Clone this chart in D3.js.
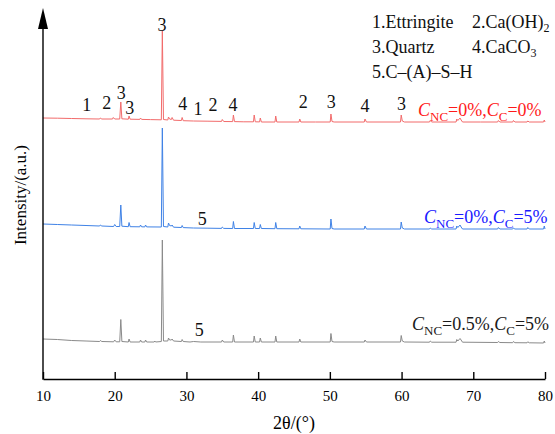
<!DOCTYPE html>
<html><head><meta charset="utf-8">
<script src="https://cdn.jsdelivr.net/npm/d3@7"></script>
<style>body{margin:0;background:#fff}svg{display:block}text{font-family:"Liberation Serif","Times New Roman",serif}</style>
</head><body><svg id="c" width="555" height="434"></svg>
<script>
// 2θ (°) vs intensity (a.u., stacked)
const xTicks = [10,20,30,40,50,60,70,80];
const seriesNames = ["NC0_C0","NC0_C5","NC05_C5"];
const redPts = [[10,261],[12,260.8],[14,260.5],[16,260.2],[17.9,260],[18,261],[18.2,260],[19.7,260],[19.8,261.5],[20,260],[20.7,260],[20.85,277],[21,260.2],[21.9,259.8],[22,263],[22.15,259.8],[23.5,259.6],[23.6,261],[23.75,259.6],[25,259.4],[26.5,259.2],[26.64,348],[26.8,259.5],[27.4,259],[27.5,262],[27.65,260],[27.9,259.5],[28,261.5],[28.2,258.8],[29.3,258.5],[29.4,261.5],[29.55,258.3],[31,258],[33,257.8],[34.9,257.6],[35,259.5],[35.2,257.5],[36.45,257.4],[36.55,264],[36.7,257.4],[38,257.2],[39.35,257.2],[39.45,264],[39.6,257.2],[40.2,257.1],[40.3,261],[40.45,257],[42.35,257],[42.45,263],[42.6,257],[45.7,257],[45.8,260],[45.95,257],[48,257],[50.05,257],[50.15,265],[50.3,257.5],[50.6,257],[54.8,257],[54.9,260],[55.1,257],[59.85,257],[59.95,264],[60.1,258],[60.4,257],[63.9,257],[64,258.5],[64.2,257],[67.6,257],[67.7,260],[67.85,258.5],[68.15,261],[68.3,259],[68.5,257],[71,257],[73.4,257],[73.5,258.5],[73.7,257],[75.5,257],[75.6,258.5],[75.8,257],[77.5,257],[77.6,258],[77.8,257],[79.8,257],[79.9,259],[80,257]];
const bluePts = [[10,155],[12,154.5],[14,154],[16,153.5],[17.9,153],[18,154],[18.2,153],[19.85,152.5],[20,154.5],[20.2,152.5],[20.7,152.5],[20.85,174],[21,152.8],[21.9,152.3],[22,156.5],[22.15,152.3],[23.5,152.2],[23.6,154],[23.75,152.2],[24.2,152.1],[24.3,154],[24.45,152.1],[26.5,152],[26.64,251],[26.8,152.5],[27.4,152],[27.5,156],[27.65,153.5],[27.9,153],[28,154],[28.2,151.8],[29.3,151.5],[29.4,153.5],[29.55,151.4],[31,151],[33,150.8],[34.9,150.6],[35,152],[35.2,150.6],[36.45,150.5],[36.55,157.5],[36.7,150.5],[39.35,150.5],[39.45,156.5],[39.6,150.5],[40.2,150.5],[40.3,154.5],[40.45,150.5],[42.35,150.3],[42.45,156.5],[42.6,150.3],[45.7,150.2],[45.8,153],[45.95,150.2],[50.05,150],[50.15,160],[50.3,150.5],[50.6,150],[54.8,150],[54.9,153],[55.1,150],[59.85,150],[59.95,157],[60.1,151],[60.4,150],[63.9,150],[64,151],[64.2,150],[67.6,150],[67.7,153],[67.85,151.5],[68.15,154],[68.3,152],[68.5,150],[73.4,150],[73.5,151.5],[73.7,150],[75.5,150],[75.6,151],[75.8,150],[77.5,150],[77.6,151.5],[77.8,150],[79.8,150],[79.9,153],[80,150]];
const grayPts = [[10,40],[12,39.5],[14,38.5],[16,38],[17.9,37.5],[18,38.5],[18.2,37.5],[19.85,37.2],[20,39],[20.2,37.2],[20.7,37.2],[20.85,59.5],[21,37.5],[21.9,37],[22,40],[22.15,37],[23.5,37],[23.6,39],[23.75,37],[24.2,37],[24.3,39],[24.45,37],[25.5,37],[25.6,38],[25.7,37],[26.5,37.5],[26.64,139],[26.8,38],[27.4,38],[27.5,41],[27.65,39],[27.9,39],[28,40],[28.2,38],[29.3,37.5],[29.4,39.5],[29.55,37.5],[30.5,37],[31,37.5],[32,37],[34.9,37],[35,39],[35.2,37],[36.45,37],[36.55,44],[36.7,37],[39.35,37],[39.45,43],[39.6,37],[40.2,37],[40.3,41],[40.45,37],[42.35,37],[42.45,43],[42.6,37],[45.7,37],[45.8,40],[45.95,37],[50.05,37],[50.15,45.5],[50.3,37.5],[50.6,37],[54.8,37],[54.9,39],[55.1,37],[59.85,37],[59.95,43.5],[60.1,38],[60.4,37],[63.9,36.8],[64,38],[64.2,36.8],[67.6,36.8],[67.7,39.5],[67.85,38],[68.15,40.5],[68.3,39],[68.5,36.8],[73.4,36.5],[73.5,37.5],[73.7,36.5],[75.5,36.3],[75.6,37.5],[75.8,36.3],[77.5,36.2],[77.6,37.2],[77.8,36.2],[79.8,36],[79.9,38],[80,36]];
// peak labels: [text, 2θ, intensity]
const peakLabels = [["1",16.1,274],["2",18.9,276],["3",20.9,286],["3",22.1,271],["3",26.6,354],["4",29.5,275],["1",31.6,270],["2",33.7,274],["4",36.5,274],["2",46.3,277],["3",50.2,277],["4",54.9,273],["3",60.0,275],["5",32.2,160],["5",31.8,49]];
const legendItems = ["1.Ettringite","2.Ca(OH)|2","3.Quartz","4.CaCO|3","5.C–(A)–S–H"];
const seriesLabels = [["0%","0%"],["0%","5%"],["0.5%","5%"]];

const FONT = "'Liberation Serif','Times New Roman',serif";
const svg = d3.select("#c");
const x = d3.scaleLinear().domain([10,80]).range([43,545]);
const y = d3.scaleLinear().domain([0,370]).range([379,9]);
const line = d3.line().x(d=>x(d[0])).y(d=>y(d[1]));

const lineColors = ["#f26b6b","#3f82e6","#8a8a8a"];
[redPts,bluePts,grayPts].forEach((pts,i)=>{
  svg.append("path").datum(pts).attr("d",line).attr("fill","none")
    .attr("stroke",lineColors[i]).attr("stroke-width",1).attr("stroke-linejoin","round");
});

// axes
const xa = svg.append("g").attr("transform","translate(0,379)")
  .call(d3.axisBottom(x).tickValues(xTicks).tickSizeInner(-7).tickSizeOuter(0).tickPadding(11).tickFormat(d3.format("d")));
xa.attr("font-family",FONT).attr("font-size",15);
xa.selectAll("path,line").attr("stroke","#000").attr("stroke-width",1.4);
xa.selectAll("text").attr("fill","#000");
svg.append("line").attr("x1",43).attr("x2",43).attr("y1",379.7).attr("y2",26).attr("stroke","#000").attr("stroke-width",1.4);
svg.append("path").attr("d","M38,29L48,29L43,8Z").attr("fill","#000");

svg.append("text").attr("x",294).attr("y",429).attr("text-anchor","middle").attr("font-family",FONT).attr("font-size",18).text("2θ/(°)");
svg.append("text").attr("transform","translate(26,195) rotate(-90)").attr("text-anchor","middle").attr("font-family",FONT).attr("font-size",17).text("Intensity/(a.u.)");

// peak labels
svg.append("g").selectAll("text").data(peakLabels).join("text")
  .attr("x",d=>x(d[1])).attr("y",d=>y(d[2])).attr("dy","0.35em")
  .attr("text-anchor","middle").attr("font-size",18).attr("fill","#111").text(d=>d[0]);

// legend
const legPos = [[372,28],[472,28],[372,53],[472,53],[372,78]];
legendItems.forEach((s,i)=>{
  const parts = s.split("|");
  const t = svg.append("text").attr("x",legPos[i][0]).attr("y",legPos[i][1]).attr("font-size",18).attr("fill","#111");
  t.append("tspan").text(parts[0]);
  if(parts[1]) t.append("tspan").attr("font-size",12).attr("dy",4).text(parts[1]);
});

// series labels
const labPos = [[418,116],[424,223],[412,330]];
const labColors = ["#ff1a1a","#1a1aff","#1a1a1a"];
seriesLabels.forEach((v,i)=>{
  const t = svg.append("text").attr("x",labPos[i][0]).attr("y",labPos[i][1]).attr("font-size",18).attr("fill",labColors[i]);
  t.append("tspan").attr("font-style","italic").text("C");
  t.append("tspan").attr("font-size",13).attr("dy",5).text("NC");
  t.append("tspan").attr("dy",-5).text("="+v[0]+",");
  t.append("tspan").attr("font-style","italic").text("C");
  t.append("tspan").attr("font-size",13).attr("dy",5).text("C");
  t.append("tspan").attr("dy",-5).text("="+v[1]);
});
</script></body></html>
